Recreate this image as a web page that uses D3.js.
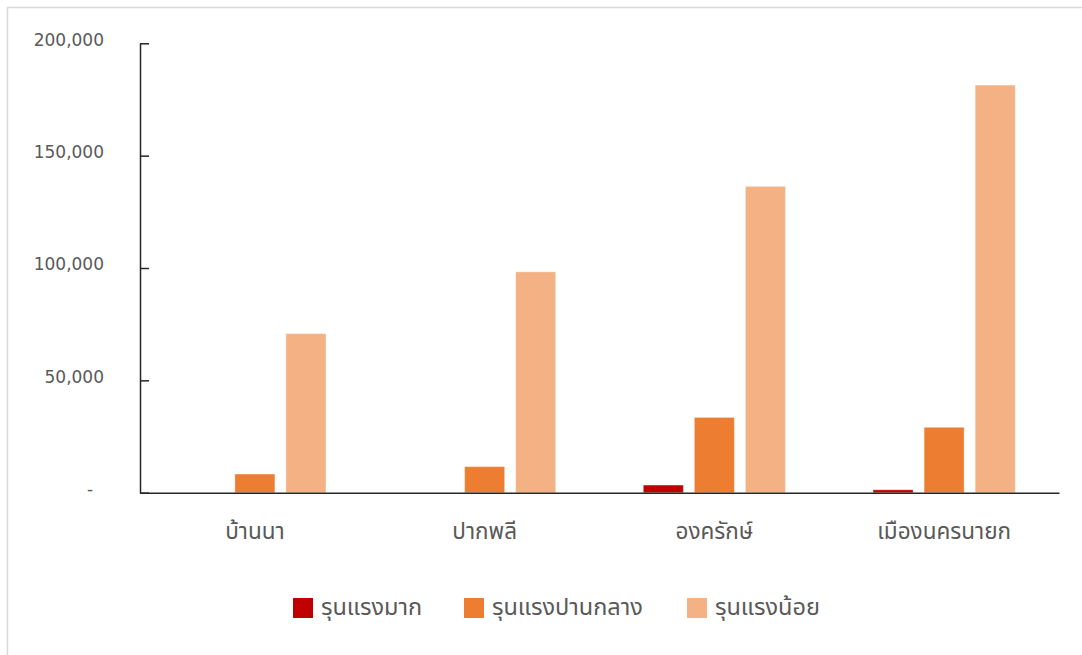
<!DOCTYPE html>
<html>
<head>
<meta charset="utf-8">
<script src="https://cdn.jsdelivr.net/npm/d3@7"></script>
<style>
  html, body { margin: 0; padding: 0; background: #ffffff; }
  svg { display: block; }
  text { font-family: "Noto Sans Thai", "Leelawadee UI", Tahoma, "DejaVu Sans", sans-serif; }
</style>
</head>
<body>
<svg id="chart" width="1082" height="655"></svg>
<script>
// Districts and severity series
const categories = ["บ้านนา", "ปากพลี", "องครักษ์", "เมืองนครนายก"];
const seriesNames = ["รุนแรงมาก", "รุนแรงปานกลาง", "รุนแรงน้อย"];
const severeValues = [0, 0, 3400, 1300];
const moderateValues = [8300, 11600, 33500, 29100];
const mildValues = [70800, 98300, 136300, 181400];
const yTicks = [0, 50000, 100000, 150000, 200000];
const seriesColors = ["#C00000", "#ED7D31", "#F4B183"];

const seriesValues = [severeValues, moderateValues, mildValues];

const svg = d3.select("#chart");

// outer frame
svg.append("rect")
  .attr("x", 7.5).attr("y", 7.5)
  .attr("width", 1090).attr("height", 660)
  .attr("fill", "none")
  .attr("stroke", "#d9d9d9")
  .attr("stroke-width", 1.5);

const x0 = d3.scaleBand().domain(categories).range([140, 1059]).padding(0);
const x1 = d3.scaleBand().domain(seriesNames)
  .range([0, x0.bandwidth()])
  .paddingInner(0.216).paddingOuter(0.858);
const y = d3.scaleLinear().domain([0, 200000]).range([492.7, 43.3]);

// bars
const groups = svg.append("g").selectAll("g")
  .data(categories)
  .join("g")
  .attr("transform", d => `translate(${x0(d)},0)`);

groups.selectAll("rect")
  .data((c, ci) => seriesNames.map((s, si) => ({ s, si, v: seriesValues[si][ci] })))
  .join("rect")
  .filter(d => d.v > 0)
  .attr("x", d => x1(d.s))
  .attr("y", d => y(d.v))
  .attr("width", x1.bandwidth())
  .attr("height", d => y(0) - y(d.v))
  .attr("fill", d => seriesColors[d.si])
  .attr("stroke", "#ffffff")
  .attr("stroke-opacity", 0.35)
  .attr("stroke-width", 1);

// y axis
const fmt = d3.format(",");
const yAxis = d3.axisLeft(y)
  .tickValues(yTicks)
  .tickSizeInner(-9)
  .tickSizeOuter(0)
  .tickPadding(36)
  .tickFormat(d => d === 0 ? "-\u00A0\u00A0" : fmt(d));

const gy = svg.append("g").attr("transform", "translate(140,0)").call(yAxis);
gy.select(".domain").attr("stroke", "#262626").attr("stroke-width", 1.5);
gy.selectAll(".tick line").attr("stroke", "#262626").attr("stroke-width", 1.5);
gy.selectAll(".tick text")
  .attr("fill", "#595959")
  .attr("font-size", 17)
  .attr("dy", "0.1em")
  .style("font-family", "'DejaVu Sans', sans-serif");

// x axis
const xAxis = d3.axisBottom(x0).tickSize(0).tickSizeOuter(0).tickPadding(30);
const gx = svg.append("g").attr("transform", `translate(0,${y(0)})`).call(xAxis);
gx.select(".domain").attr("stroke", "#262626").attr("stroke-width", 1.5);
gx.selectAll(".tick text")
  .attr("fill", "#595959")
  .attr("font-size", 22.5);

// legend
const legendX = [293, 464, 687];
const legend = svg.append("g").selectAll("g")
  .data(seriesNames)
  .join("g")
  .attr("transform", (d, i) => `translate(${legendX[i]},598)`);
legend.append("rect")
  .attr("width", 20).attr("height", 20)
  .attr("fill", (d, i) => seriesColors[i]);
legend.append("text")
  .attr("x", 28).attr("y", 17)
  .attr("fill", "#595959")
  .attr("font-size", 23.5)
  .text(d => d);
</script>
</body>
</html>
